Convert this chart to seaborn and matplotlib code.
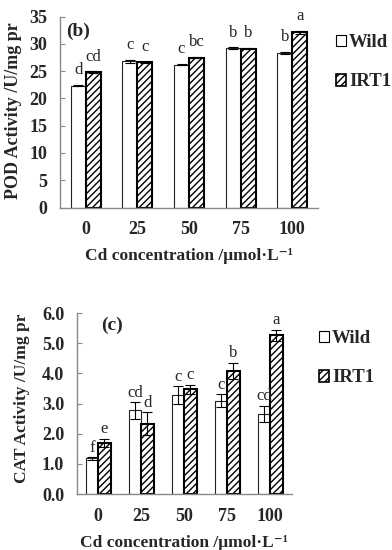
import matplotlib
matplotlib.use("Agg")
import matplotlib.pyplot as plt
import seaborn as sns
import pandas as pd
from matplotlib.patches import Patch
from matplotlib.font_manager import FontProperties

# ---------------- data ----------------
conc = ["0", "25", "50", "75", "100"]
groups = ["Wild", "IRT1"]

pod_wild = [22.3, 26.8, 26.2, 29.2, 28.4]
pod_irt1 = [24.8, 26.6, 27.5, 29.1, 32.1]
pod_wild_err = [0.1, 0.25, 0.1, 0.15, 0.2]
pod_irt1_err = [0.15, 0.1, 0.1, 0.1, 0.3]
pod_wild_sig = ["d", "c", "c", "b", "b"]
pod_irt1_sig = ["cd", "c", "bc", "b", "a"]
pod_yticks = [0, 5, 10, 15, 20, 25, 30, 35]

cat_wild = [1.18, 2.77, 3.27, 3.10, 2.66]
cat_irt1 = [1.70, 2.33, 3.47, 4.09, 5.27]
cat_wild_err = [0.05, 0.27, 0.30, 0.20, 0.27]
cat_irt1_err = [0.13, 0.38, 0.15, 0.27, 0.18]
cat_wild_sig = ["f", "cd", "c", "c", "cd"]
cat_irt1_sig = ["e", "d", "c", "b", "a"]
cat_yticks = [0.0, 1.0, 2.0, 3.0, 4.0, 5.0, 6.0]

xlabel = "Cd concentration /\u03bcmol\u00b7L\u207b\u00b9"
pod_ylabel = "POD Activity /U/mg pr"
cat_ylabel = "CAT Activity /U/mg pr"

# ---------------- style ----------------
sns.set_theme(style="white")
plt.rcParams["font.family"] = ["Liberation Serif", "DejaVu Serif"]
plt.rcParams["hatch.linewidth"] = 1.0
SERIF = ["Liberation Serif", "DejaVu Serif"]
bold = dict(family=SERIF, weight="bold")
GRAY = "#8a8a8a"

fig = plt.figure(figsize=(3.92, 5.5), dpi=100)
ax1 = fig.add_axes([0.1531, 0.6227, 0.658, 0.347])
ax2 = fig.add_axes([0.1957, 0.1018, 0.5485, 0.329])


def draw(ax, wild, irt, werr, ierr, wsig, isig, yticks, fmt, ylabel, ylab_size,
         panel, panel_pos, ylab_pos, sig_off):
    df = pd.DataFrame({
        "conc": conc * 2,
        "group": [groups[0]] * len(conc) + [groups[1]] * len(conc),
        "value": list(wild) + list(irt),
    })
    sns.barplot(data=df, x="conc", y="value", hue="group", order=conc,
                hue_order=groups, width=0.58, palette=["white", "white"],
                edgecolor="black", errorbar=None, legend=False, ax=ax, gap=0)
    bars = ax.patches
    n = len(conc)
    for p in bars[:n]:
        p.set_linewidth(0.8)
        p.set_edgecolor("#222222")
    for p in bars[n:2 * n]:
        p.set_hatch("/////")
        p.set_linewidth(1.5)
        p.set_edgecolor("black")
    for p, e, s in list(zip(bars[:n], werr, wsig)) + list(zip(bars[n:2 * n], ierr, isig)):
        x = p.get_x() + p.get_width() / 2
        h = p.get_height()
        ax.errorbar(x, h, yerr=e, fmt="none", ecolor="black", elinewidth=0.8,
                    capsize=3.5, capthick=0.8, zorder=5)
        ax.annotate(s, (x, h + e), xytext=(0, sig_off), textcoords="offset points",
                    ha="center", va="bottom", fontsize=12, family=SERIF)
    ax.set_xlim(-0.5, len(conc) - 0.5)
    ax.set_ylim(yticks[0], yticks[-1])
    ax.set_yticks(yticks)
    ax.set_yticklabels([fmt.format(v) for v in yticks], fontsize=13, **bold)
    ax.set_xticks(range(len(conc)))
    ax.set_xticklabels(conc, fontsize=13, **bold)
    ax.set_xticks([i + 0.5 for i in range(len(conc))], minor=True)
    ax.tick_params(axis="x", which="major", length=0, pad=10)
    ax.tick_params(axis="x", which="minor", direction="in", length=3.5,
                   color=GRAY, width=0.8)
    ax.tick_params(axis="y", direction="in", length=3.5, color=GRAY, width=0.8,
                   pad=9, left=True)
    for sp in ["top", "right"]:
        ax.spines[sp].set_visible(False)
    for sp in ["left", "bottom"]:
        ax.spines[sp].set_color(GRAY)
        ax.spines[sp].set_linewidth(1.0)
    ax.set_xlabel(xlabel, fontsize=12.5, labelpad=7, **bold)
    ax.set_ylabel(ylabel, fontsize=ylab_size, **bold)
    ax.yaxis.set_label_coords(*ylab_pos)
    ax.text(panel_pos[0], panel_pos[1], panel, transform=ax.transAxes,
            ha="center", va="center", fontsize=14, **bold)


draw(ax1, pod_wild, pod_irt1, pod_wild_err, pod_irt1_err, pod_wild_sig,
     pod_irt1_sig, pod_yticks, "{:.0f}", pod_ylabel, 13, "(b)", (0.07, 0.925),
     (-0.147, 0.51), 5)
draw(ax2, cat_wild, cat_irt1, cat_wild_err, cat_irt1_err, cat_wild_sig,
     cat_irt1_sig, cat_yticks, "{:.1f}", cat_ylabel, 12.5, "(c)", (0.164, 0.934),
     (-0.217, 0.53), 1)

handles = [Patch(facecolor="white", edgecolor="black", linewidth=0.8),
           Patch(facecolor="white", edgecolor="black", linewidth=1.2, hatch="/////")]
prop = FontProperties(family=SERIF, weight="bold", size=13.5)
for anchor in [(336 / 392, 1 - 34 / 550), (319 / 392, 1 - 330 / 550)]:
    fig.legend(handles, groups, loc="upper left", bbox_to_anchor=anchor,
               frameon=False, prop=prop, handlelength=0.55, handleheight=0.55,
               handletextpad=0.15, labelspacing=1.2, borderaxespad=0,
               borderpad=0)

fig.savefig("out.png", dpi=100)
